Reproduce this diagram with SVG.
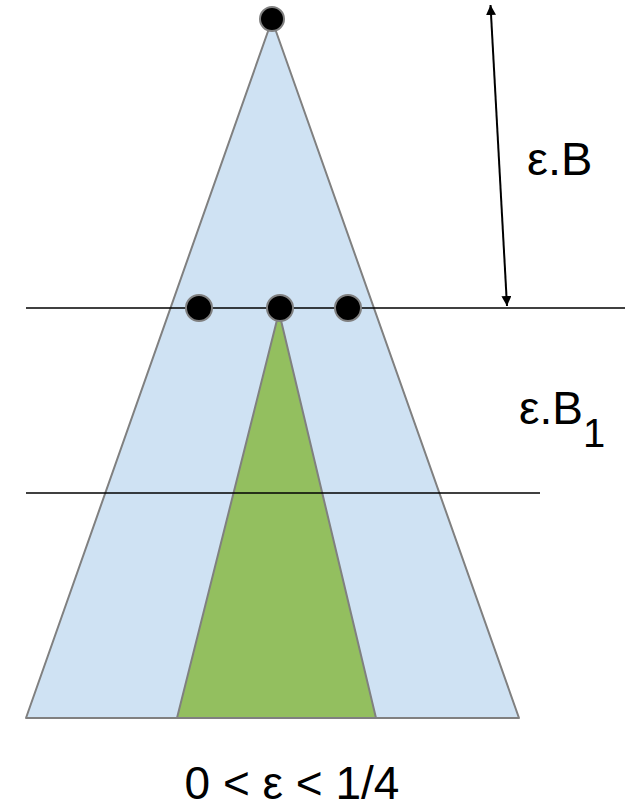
<svg xmlns="http://www.w3.org/2000/svg" width="625" height="809" viewBox="0 0 625 809">
<defs>
<style>
.tri{stroke:#808080;stroke-width:2;stroke-linejoin:round}
.line{stroke:#000;stroke-width:1.5;fill:none}
.dot{fill:#000;stroke:#808080;stroke-width:2}
.lbl{font-family:"Liberation Sans",Arial,sans-serif;fill:#000}
</style>
<marker id="ah" viewBox="0 0 10 10" refX="10" refY="5" markerWidth="5" markerHeight="5" orient="auto-start-reverse" markerUnits="strokeWidth">
<path d="M0,0 L10,5 L0,10 Z" fill="#000"/>
</marker>
</defs>
<g id="outer"><polygon class="tri" fill="#cfe2f3" points="272,20 519,718 26,718"/></g>
<g id="inner"><polygon class="tri" fill="#93bf5f" points="279,312 376,718 177,718"/></g>
<g id="connectors">
<line class="line" x1="26" y1="308" x2="625" y2="308"/>
<line class="line" x1="26" y1="493" x2="540" y2="493"/>
<line x1="490.5" y1="5" x2="507" y2="306" stroke="#000" stroke-width="2" marker-start="url(#ah)" marker-end="url(#ah)"/>
</g>
<g id="dot-apex"><circle class="dot" cx="272" cy="19" r="12"/></g>
<g id="dot-left"><circle class="dot" cx="199" cy="308" r="13"/></g>
<g id="dot-mid"><circle class="dot" cx="280" cy="308" r="13"/></g>
<g id="dot-right"><circle class="dot" cx="348" cy="308" r="13"/></g>
<g id="label-eB"><text class="lbl" x="527" y="175" font-size="47">ε.B</text></g>
<g id="label-eB1"><text class="lbl" x="519" y="424" font-size="46">ε.B<tspan dy="23" font-size="40">1</tspan></text></g>
<g id="label-range"><text class="lbl" x="292" y="799" font-size="46" text-anchor="middle">0 &lt; ε &lt; 1/4</text></g>
</svg>
